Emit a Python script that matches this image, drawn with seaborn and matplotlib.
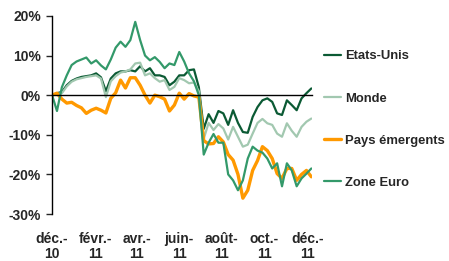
import pandas as pd
import matplotlib
matplotlib.use("Agg")
import matplotlib.pyplot as plt
import seaborn as sns

# -------------------------------
# DATA (weekly points, % change since Dec 2010)
# -------------------------------
dates = pd.date_range("2010-12-01", periods=54, freq="7D")

etats_unis = [0, 0.5, 0.8, 2.5, 3.6, 4.2, 4.6, 4.8, 5, 5.5,
              4.5, 1, 4.2, 5.5, 6, 6, 6.3, 6, 7.3, 6,
              6.8, 5, 5, 4.6, 2.5, 3.4, 5, 5, 6.3, 6.5,
              2, -8.5, -4.8, -7, -4, -4.6, -7.5, -3.8, -7, -9.3,
              -9.5, -5.5, -3, -1.3, -0.8, -1.7, -4.6, -5, -1.3, -2.5,
              -3.8, -0.8, 0.5, 1.7]

monde = [0, 0.3, 0.5, 2.2, 3.4, 4, 4.3, 4.6, 4.8, 5,
         4.2, -0.5, 3.5, 4.8, 5.7, 6, 6.5, 8, 8.2, 5,
         5.5, 4.3, 3.4, 3.8, 1.3, 2.1, 4.3, 3.8, 3, 3.2,
         1, -11, -7, -8.8, -7.3, -8.4, -11.2, -8, -10.5, -13,
         -12.5, -9.7, -7, -6, -7.1, -7.5, -9.7, -10.5, -7.1, -9,
         -10.5, -8, -6.7, -5.9]

pays_emergents = [0, 0.5, -1, -2, -1.8, -2.6, -3.2, -4.6, -3.8, -3.3,
                  -3.8, -4.5, -0.8, 0.6, 3.8, 1.8, 4.4, 4.4, 2.5, 0,
                  -2, 0, -0.4, -1, -4, -2.5, 0.5, -1, 0.4, -0.2,
                  -0.5, -11.5, -12.3, -12.2, -10.5, -11.8, -15, -16.4, -20, -26,
                  -24, -19, -16.5, -13, -14, -16, -19.8, -21, -18.5, -18.5,
                  -21.5, -20, -19, -20.6]

zone_euro = [0, -4, 2, 5, 7.6, 8.5, 9, 9.5, 8, 8.8,
             7.5, 6.5, 9, 12, 13.5, 12.2, 13.9, 18.5, 13.9, 10,
             8.8, 9.6, 8.4, 6.8, 8, 7.6, 10.9, 8.5, 5.5, 3.5,
             0, -15, -12, -9.8, -12, -12, -20, -21.5, -24, -21.5,
             -16, -13, -14, -14.5, -16, -18.5, -17.2, -23, -17.2, -19,
             -23, -21, -19.8, -18.5]

series_names = ["Etats-Unis", "Monde", "Pays émergents", "Zone Euro"]
series_values = [etats_unis, monde, pays_emergents, zone_euro]
colors = ["#0b5a34", "#a2c8b0", "#ff9900", "#33996a"]
widths = [1.6, 1.6, 2.4, 1.6]

tick_dates = pd.to_datetime(["2010-12-01", "2011-02-01", "2011-04-01", "2011-06-01",
                             "2011-08-01", "2011-10-01", "2011-12-01"])
tick_labels = ["déc.-\n10", "févr.-\n11", "avr.-\n11", "juin-\n11",
               "août-\n11", "oct.-\n11", "déc.-\n11"]
y_ticks = [-30, -20, -10, 0, 10, 20]

# -------------------------------
# STYLE
# -------------------------------
sns.set_style("white")
plt.rcParams["font.family"] = ["Liberation Sans", "DejaVu Sans"]
plt.rcParams["font.weight"] = "bold"
plt.rcParams["font.size"] = 10

fig = plt.figure(figsize=(4.49, 2.61), dpi=100)
ax = fig.add_axes([0.116, 0.18, 0.579, 0.759])

# -------------------------------
# LINES
# -------------------------------
for name, vals, c, lw in zip(series_names, series_values, colors, widths):
    sns.lineplot(x=dates, y=vals, color=c, linewidth=lw, label=name, ax=ax)

ax.set_xlim(pd.Timestamp("2010-12-01"), pd.Timestamp("2011-12-08"))
ax.set_ylim(-30, 20)
ax.set_yticks(y_ticks)
ax.set_yticklabels([f"{v}%" for v in y_ticks])
ax.set_xlabel("")
ax.set_ylabel("")

# x axis sits on the 0 line, labels go at the bottom
ax.spines["bottom"].set_position(("data", 0))
ax.spines["top"].set_visible(False)
ax.spines["right"].set_visible(False)
for s in ["left", "bottom"]:
    ax.spines[s].set_color("black")
    ax.spines[s].set_linewidth(1.0)
ax.set_xticks(tick_dates)
ax.tick_params(axis="x", direction="out", length=4, width=1, labelbottom=False)
ax.tick_params(axis="y", direction="out", length=4, width=1, left=True, pad=4)
for d, lab in zip(tick_dates, tick_labels):
    ax.text(d, -0.09, lab, transform=ax.get_xaxis_transform(), ha="center", va="top",
            fontsize=10, fontweight="bold", linespacing=1.15)

# -------------------------------
# LEGEND
# -------------------------------
ax.legend(loc="center left", bbox_to_anchor=(0.722, 0.542), bbox_transform=fig.transFigure,
          frameon=False, handlelength=1.3, handletextpad=0.3, labelspacing=2.3,
          borderpad=0, borderaxespad=0, prop={"size": 9.4, "weight": "bold"})

plt.savefig("out.png", dpi=100)
